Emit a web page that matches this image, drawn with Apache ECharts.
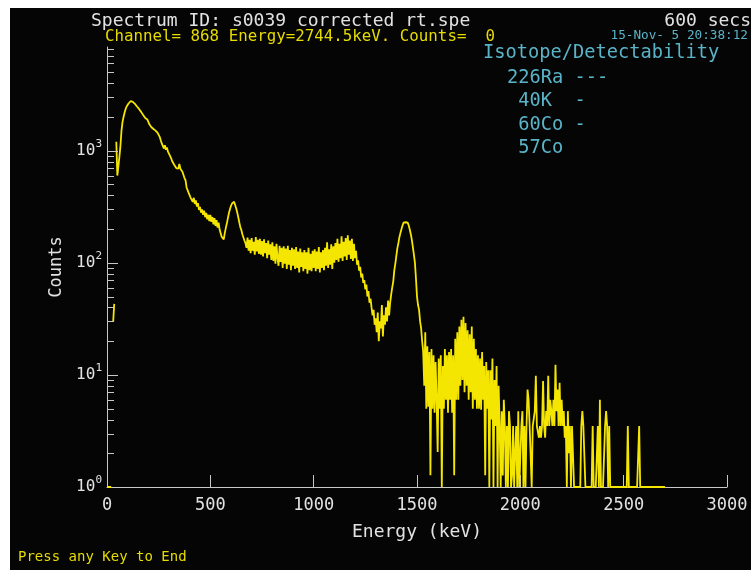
<!DOCTYPE html>
<html><head><meta charset="utf-8">
<script src="https://cdn.jsdelivr.net/npm/echarts@6/dist/echarts.min.js"></script>
<style>html,body{margin:0;padding:0;background:#fff}#chart{width:751px;height:570px}</style>
</head><body><div id="chart"></div>
<script>
// ---- data ----
const KEV_PER_POINT = 5; // energy spacing of the samples below (keV)
const countsA = [ // 0 - 495 keV
  1,1,1,1,1,null,30,43,null,1200,
  600,720,880,1100,1500,1800,2000,2180,2350,2480,
  2580,2650,2720,2770,2780,2730,2680,2620,2560,2480,
  2420,2360,2300,2220,2150,2080,2020,1960,1940,1900,
  1880,1720,1680,1620,1590,1560,1530,1510,1480,1440,
  1400,1330,1240,1160,1130,1050,1120,1020,1070,980,
  990,900,860,810,800,750,770,700,720,690,
  760,690,700,650,640,570,545,470,460,420,
  430,380,395,350,380,335,360,318,340,296,
  315,280,300,268,292,255,278,244,268,236
];
const countsB = [ // 500 - 995 keV
  268,232,256,220,250,214,240,206,228,198,
  200,170,176,162,185,205,225,250,278,300,
  322,338,348,350,328,306,282,256,230,208,
  196,180,176,158,150,136,168,128,160,122,
  166,128,154,118,170,126,160,120,164,118,
  156,114,162,122,150,110,158,118,146,106,
  152,104,140,98,148,110,94,142,102,136,
  90,140,98,134,88,142,96,130,86,136,
  94,132,88,138,90,126,82,134,92,124,
  84,130,88,124,80,136,86,120,84,128
];
const countsC = [ // 1000 - 1495 keV
  90,132,84,126,88,138,82,124,90,130,
  86,136,94,152,90,132,96,146,88,140,
  100,150,106,164,102,148,110,172,104,154,
  114,166,106,176,118,158,108,164,104,148,
  110,128,96,105,85,92,74,80,66,70,
  58,64,50,56,44,48,40,34,38,28,
  32,24,36,20,30,26,42,22,34,28,
  40,30,46,34,44,52,60,68,85,98,
  115,135,150,170,185,200,215,228,235,230,
  235,228,215,198,180,160,138,118,100,72
];
const countsD = [ // 1500 - 1995 keV
  50,42,38,30,26,20,16,8,24,5,
  18,5.2,16,1.27,17,5,15,4.6,13,6,
  2.05,14,5,15,1,12,5,17,6,15,
  4.6,16,6,17,4.6,15,1.27,21,6,24,
  6,27,8,31,9,33,7,29,8,25,
  6,23,7,27,5,21,6,17,5,15,
  5,14,4.9,16,6,12,1.27,13,5,11,
  1,11,4,14,1,9,3.5,12,1,8,
  3.5,1,4.75,1.27,6,3.5,1,3.5,1,4.75,
  3.5,1,1.27,3.5,1,2,3.5,1,4.75,1
];
const countsE = [ // 2000 - 2700 keV
  1,3.5,4.75,1,3.5,1,3.5,7.4,6,3.5,
  3.5,1,3.5,3.5,4.75,9.8,3.5,3.5,2.75,3.5,
  2.75,3.5,8.8,3.5,2.75,4.75,3.5,9.8,3.5,6,
  4.75,3.5,6,3.5,12.3,4.75,7.4,3.5,8.5,3.5,
  6,3.5,4.75,2.75,3.5,1,4.75,2,3.5,1,
  3.5,3.5,1,1,1,1,1,1,1,3.5,
  4.75,3.5,3.5,1,1,1,1,1,1,1,
  3.5,1,1,1,1,3.5,1,6,1,1,
  1,1,3.5,4.75,3.5,1,3.5,1,1,1,
  1,1,1,1,1,1,1,1,1,1,
  1,1,1,1,3.5,1,1,1,1,1,
  1,1,1,1,1,3.5,1,1,1,1,
  1,1,1,1,1,1,1,1,1,1,
  1,1,1,1,1,1,1,1,1,1,1
];
const yMajorTicks = [10, 100, 1000];
const yMinorTicks = [2,3,4,5,6,7,8,9,20,30,40,50,60,70,80,90,200,300,400,500,600,700,800,900,2000,3000,4000,5000,6000,7000,8000];
const isotopes = ['226Ra', '40K', '60Co', '57Co'];
const detectability = ['---', '-', '-', ''];
const headerTitle = 'Spectrum ID: s0039 corrected rt.spe';
const liveTime = '600 secs';
const cursorInfo = 'Channel= 868 Energy=2744.5keV. Counts=  0';
const dateInfo = '15-Nov- 5 20:38:12';
const footer = 'Press any Key to End';

// ---- chart ----
const FONT = '"DejaVu Sans Mono", monospace';
const GREY = '#c8c8c8', TXT = '#e2e2e2', YEL = '#e6dc00', CYAN = '#5ab4c8', TRACE = '#f4e600';
const counts = [].concat(countsA, countsB, countsC, countsD, countsE);
const spectrum = counts.map((c, i) => [i * KEV_PER_POINT, c]);
const isoLines = isotopes.map((n, i) => ((n.length < 5 ? ' ' + n : n).padEnd(6) + detectability[i]).replace(/\s+$/, ''));

function txt(text, x, y, size, color, align) {
  return { type: 'text', x: x, y: y, z: 50, silent: true,
    style: { text: text, fill: color, font: size + 'px ' + FONT,
      align: align || 'left', textAlign: align || 'left',
      verticalAlign: 'middle', textVerticalAlign: 'middle' } };
}
const baseGraphic = [
  { type: 'rect', z: 100, silent: true, shape: { x: 0, y: 0, width: 751, height: 8 }, style: { fill: '#fff' } },
  { type: 'rect', z: 100, silent: true, shape: { x: 0, y: 0, width: 10, height: 570 }, style: { fill: '#fff' } },
  txt(headerTitle, 91, 21, 18, TXT),
  txt(liveTime, 751, 21, 18, TXT, 'right'),
  txt(cursorInfo, 105, 37, 15.8, YEL),
  txt(dateInfo, 748, 36, 12.7, CYAN, 'right'),
  txt('Isotope/Detectability', 483, 53, 18.7, CYAN),
  txt(isoLines[0], 507, 78, 18.7, CYAN),
  txt(isoLines[1], 507, 101.5, 18.7, CYAN),
  txt(isoLines[2], 507, 125, 18.7, CYAN),
  txt(isoLines[3], 507, 148.5, 18.7, CYAN),
  txt(footer, 18, 557, 14, YEL)
];

const chart = echarts.init(document.getElementById('chart'), null, { renderer: 'canvas' });
chart.setOption({
  animation: false,
  backgroundColor: '#050505',
  grid: { left: 107, top: 47, width: 620, height: 440, containLabel: false },
  xAxis: {
    type: 'value', min: 0, max: 3000, interval: 500,
    axisLine: { show: true, lineStyle: { color: GREY, width: 1 } },
    axisTick: { show: true, inside: true, length: 12, lineStyle: { color: GREY } },
    axisLabel: { color: TXT, fontSize: 17, fontFamily: FONT, margin: 10,
      formatter: function (v) { return String(v); } },
    splitLine: { show: false },
    name: 'Energy (keV)', nameLocation: 'middle', nameGap: 36,
    nameTextStyle: { color: TXT, fontSize: 18, fontFamily: FONT }
  },
  yAxis: {
    type: 'log', logBase: 10, min: 1, max: 8414,
    axisLine: { show: true, lineStyle: { color: GREY, width: 1 } },
    axisTick: { show: false },
    splitLine: { show: false },
    minorTick: { show: false }, minorSplitLine: { show: false },
    axisLabel: {
      margin: 5, showMaxLabel: false,
      formatter: function (v) {
        const e = Math.log10(v);
        if (Math.abs(e - Math.round(e)) > 1e-6) return '';
        return '{b|10}{s|' + Math.round(e) + '}';
      },
      rich: {
        b: { color: TXT, fontFamily: FONT, fontSize: 16, lineHeight: 24 },
        s: { color: TXT, fontFamily: FONT, fontSize: 11, lineHeight: 10, verticalAlign: 'top' }
      }
    },
    name: 'Counts', nameLocation: 'middle', nameGap: 38,
    nameTextStyle: { color: TXT, fontSize: 17, fontFamily: FONT }
  },
  series: [
    { type: 'line', data: spectrum, symbol: 'none', showSymbol: false, connectNulls: false,
      lineStyle: { color: TRACE, width: 1.8 }, z: 5, silent: true }
  ],
  graphic: baseGraphic
});

// y-axis ticks placed through the chart's own log scale
const tickGraphic = [];
function addTick(v, len) {
  const p = chart.convertToPixel({ gridIndex: 0 }, [0, v]);
  const x = Math.round(p[0]);
  const y = Math.round(p[1]) + 0.5;
  tickGraphic.push({ type: 'line', z: 40, silent: true,
    shape: { x1: x, y1: y, x2: x + len, y2: y }, style: { stroke: GREY, lineWidth: 1 } });
}
yMajorTicks.forEach(v => addTick(v, 11));
yMinorTicks.forEach(v => addTick(v, 7));
chart.setOption({ graphic: baseGraphic.concat(tickGraphic) });
</script></body></html>
